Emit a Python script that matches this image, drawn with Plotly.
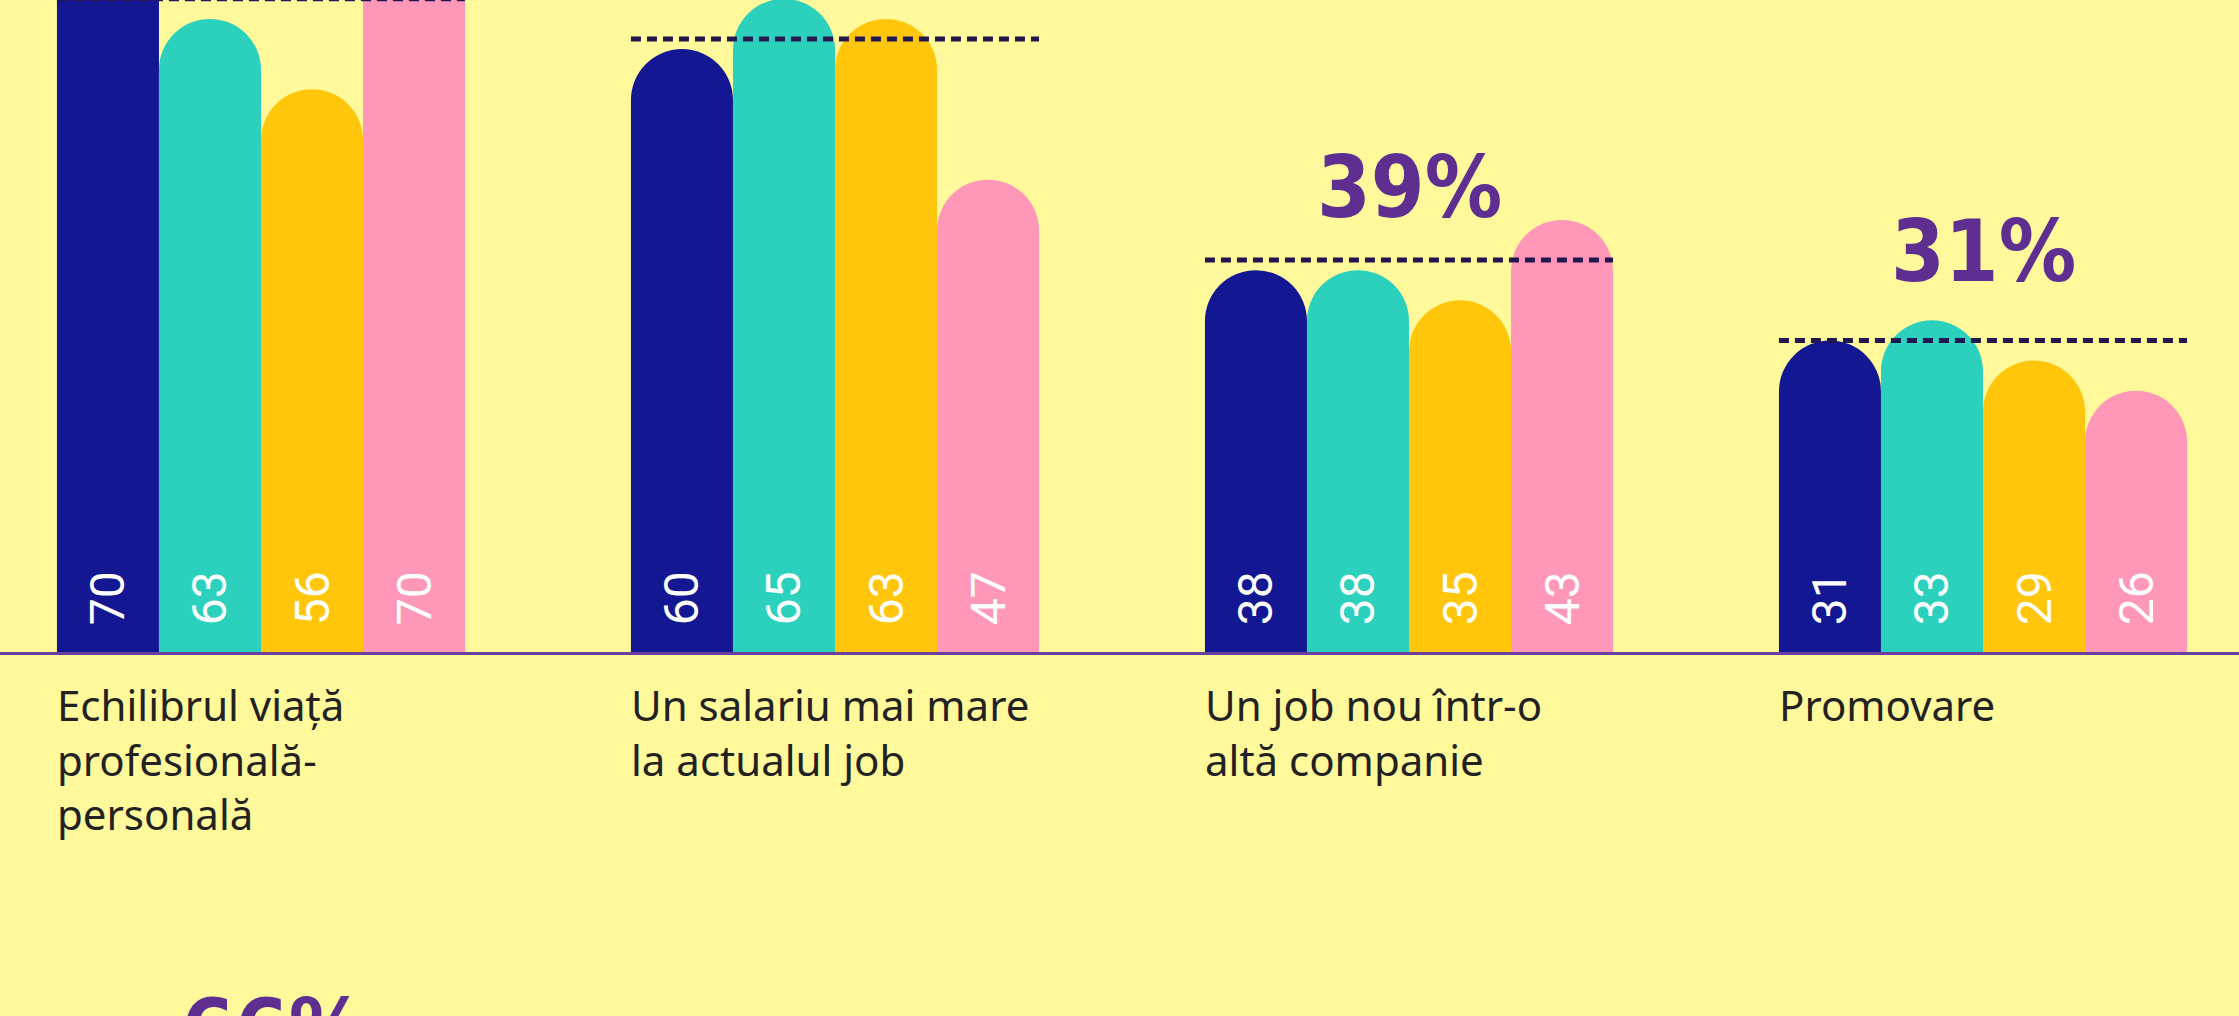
import plotly.graph_objects as go

# ---------------- data ----------------
categories = [
    "Echilibrul viață<br>profesională-<br>personală",
    "Un salariu mai mare<br>la actualul job",
    "Un job nou într-o<br>altă companie",
    "Promovare",
]
series_a = [70, 60, 38, 31]
series_b = [63, 65, 38, 33]
series_c = [56, 63, 35, 29]
series_d = [70, 47, 43, 26]
averages = [65, 61, 39, 31]
average_labels = ["65%", "61%", "39%", "31%"]
next_chart_label = "66%"

# ---------------- style ----------------
BG = "#FFF99B"
COLORS = ["#131892", "#2CD1BD", "#FFC60B", "#FF97B8"]
PURPLE = "#5E2E91"
DASH = "#22184F"
BARGAP = 0.289
W, H = 2239, 1016
MT, MB = 0, 364
YMAX = 64.88
XR = [-0.4547, 3.446]
PCT_FONT = "Liberation Sans Narrow, DejaVu Sans Condensed, Roboto Condensed, Roboto, sans-serif"
PCT_SIZE = 86

x_idx = list(range(len(categories)))
fig = go.Figure()
for vals, col in zip([series_a, series_b, series_c, series_d], COLORS):
    fig.add_trace(go.Bar(
        x=x_idx, y=vals, marker=dict(color=col, line=dict(width=0)),
        text=["\u00a0\u00a0" + str(v) for v in vals],
        textposition="inside", insidetextanchor="start", textangle=-90,
        textfont=dict(family="Roboto", size=48, color="white"),
        cliponaxis=True, showlegend=False, hoverinfo="skip",
    ))

half = (1 - BARGAP) / 2
shapes = []
annotations = []
pct_shift = {2: 21, 3: 37}
for i, (avg, lab) in enumerate(zip(averages, average_labels)):
    shapes.append(dict(type="line", xref="x", yref="y", x0=i - half, x1=i + half,
                       y0=avg, y1=avg, layer="above",
                       line=dict(color=DASH, width=5, dash="10px,6px")))
    if i in pct_shift:  # labels of the first two groups lie above the visible area
        annotations.append(dict(x=i, y=avg, xref="x", yref="y", text=lab,
                                showarrow=False, xanchor="center", yanchor="bottom",
                                yshift=pct_shift[i],
                                font=dict(family=PCT_FONT, size=PCT_SIZE, color=PURPLE, weight=700)))
    annotations.append(dict(x=i - half, y=0, xref="x", yref="paper", text=categories[i],
                            showarrow=False, xanchor="left", yanchor="top", align="left",
                            yshift=-22, xshift=-2,
                            font=dict(family="Noto Sans", size=42, color="#222222")))

annotations.append(dict(x=0, y=0, xref="x", yref="paper", text=next_chart_label,
                        showarrow=False, xanchor="center", yanchor="top", xshift=12,
                        yshift=-326,
                        font=dict(family=PCT_FONT, size=PCT_SIZE, color=PURPLE, weight=700)))

fig.update_layout(
    width=W, height=H,
    margin=dict(l=0, r=0, t=MT, b=MB, pad=0),
    paper_bgcolor=BG, plot_bgcolor=BG,
    barmode="group", bargap=BARGAP, bargroupgap=0,
    barcornerradius="50%",
    shapes=shapes, annotations=annotations,
    xaxis=dict(range=XR, showticklabels=False, showgrid=False, zeroline=False,
               showline=True, linecolor="#6B3FA0", linewidth=3, ticks="",
               fixedrange=True),
    yaxis=dict(range=[0, YMAX], visible=False, fixedrange=True),
)

fig.write_html(
    "out.html",
    config={"displayModeBar": False},
    post_script="document.body.style.margin='0';document.body.style.overflow='hidden';document.body.style.background='" + BG + "';",
)
